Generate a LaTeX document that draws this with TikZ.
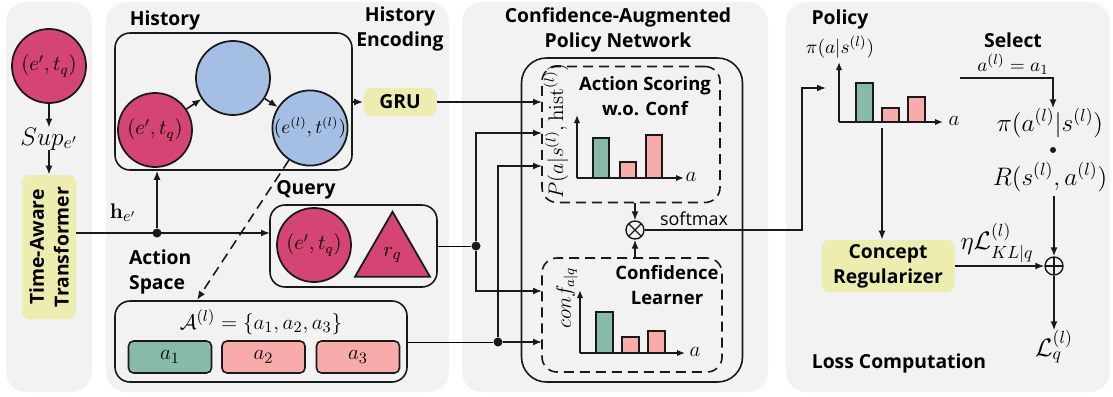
\documentclass[tikz,border=0pt]{standalone}
\usepackage[no-math]{fontspec}
\setmainfont{Open Sans}
\setsansfont{Open Sans}
\usepackage{amsmath}
\usetikzlibrary{arrows.meta,positioning,calc,shapes.geometric}
\definecolor{pgbg}{RGB}{242,242,242}
\definecolor{pgedge}{RGB}{25,25,25}
\definecolor{pgent}{RGB}{212,69,115}
\definecolor{pghis}{RGB}{165,190,227}
\definecolor{pgyel}{RGB}{238,237,176}
\definecolor{pgtea}{RGB}{135,186,170}
\definecolor{pgpnk}{RGB}{247,171,170}
\tikzset{
  panel/.style={fill=pgbg, rounded corners=4mm},
  ent/.style={
    circle, draw=pgedge, line width=1pt, fill=pgent,
    minimum size=14.8mm, inner sep=0pt, font=\fontsize{12}{13}\selectfont
  },
  hst/.style={ent, fill=pghis},
  yel/.style={
    fill=pgyel, rounded corners=1.5mm, align=center, inner sep=2pt,
    font=\fontsize{11}{14.2}\selectfont\bfseries
  },
  grp/.style={draw=pgedge, line width=0.9pt, rounded corners=3mm},
  dgrp/.style={grp, dash pattern=on 2mm off 1.2mm},
  act/.style={
    draw=pgedge, line width=0.9pt, rounded corners=1mm,
    minimum width=16.6mm, minimum height=6.4mm, font=\fontsize{13}{14}\selectfont
  },
  arr/.style={-{Latex[length=1.8mm,width=1.4mm]}, draw=pgedge, line width=0.9pt},
  darr/.style={arr, dash pattern=on 2mm off 1.2mm},
  axis/.style={-{Latex[length=1.6mm,width=1.3mm]}, draw=pgedge, line width=0.9pt},
  bar/.style={draw=pgedge, line width=0.9pt},
  ttl/.style={font=\fontsize{11}{14.2}\selectfont\bfseries, align=center, inner sep=1pt},
  sub/.style={font=\fontsize{10.5}{14.2}\selectfont\bfseries, align=center, inner sep=1pt},
  mth/.style={font=\fontsize{11}{12}\selectfont, inner sep=1pt},
  big/.style={font=\fontsize{14}{15}\selectfont, inner sep=0pt},
  dot/.style={circle, fill=pgedge, inner sep=0pt, minimum size=1.8mm},
  opx/.style={circle, draw=pgedge, line width=0.8pt, minimum size=3.6mm, inner sep=0pt}
}
\begin{document}
\begin{tikzpicture}[x=0.2mm,y=-0.2mm]
  \useasboundingbox (0,0) rectangle (1113,396);
  % panels
  \fill[panel] (6,2) rectangle (92,392);
  \fill[panel] (106,2) rectangle (449,392);
  \fill[panel] (462,2) rectangle (768,392);
  \fill[panel] (786,2) rectangle (1110,392);

  % time-aware encoder
  \node[ent] (src) at (49,66) {$(e',t_q)$};
  \node[big] (sup) at (49,139) {$Sup_{e'}$};
  \node[yel, rotate=90, minimum width=28.8mm, minimum height=10.8mm] (tat) at (49,247)
    {Time-Aware\\Transformer};
  \draw[arr] (src) -- (sup);
  \draw[arr] (sup) -- (tat);

  % history
  \node[ttl] (histl) at (165,20) {History};
  \node[grp, minimum width=47.4mm, minimum height=27.4mm] (hbox) at (233.5,101.5) {};
  \node[ent] (hq) at (155,130) {$(e',t_q)$};
  \node[hst] (hm) at (233,78) {};
  \node[hst, font=\fontsize{10.5}{12}\selectfont] (hl) at (310,128) {$(e^{(l)},t^{(l)})$};
  \draw[darr] (hq) -- (hm);
  \draw[darr] (hm) -- (hl);
  \node[ttl] (hencl) at (400,29) {History\\Encoding};
  \node[yel, minimum width=14.6mm, minimum height=5.6mm] (gru) at (400,102) {GRU};
  \draw[arr] (hbox.east |- gru) -- (gru);

  % query
  \node[ttl] (ql) at (306,190) {Query};
  \node[grp, minimum width=33.4mm, minimum height=16.4mm] (qbox) at (353.5,246) {};
  \node[ent] (qe) at (314,245) {$(e',t_q)$};
  \node[regular polygon, regular polygon sides=3, draw=pgedge, line width=1pt, fill=pgent,
    minimum size=17.3mm, inner sep=0pt, font=\fontsize{13}{14}\selectfont] (rq) at (392.5,255) {$r_q$};

  % action space
  \node[ttl, align=left, anchor=west] (asl) at (127,272) {Action\\Space};
  \node[grp, minimum width=58.4mm, minimum height=16.2mm] (abox) at (261,341.5) {};
  \node[mth, font=\fontsize{13}{14}\selectfont] (aset) at (261,322) {$\mathcal{A}^{(l)}=\{a_1,a_2,a_3\}$};
  \node[act, fill=pgtea] (a1) at (170,357) {$a_1$};
  \node[act, fill=pgpnk] (a2) at (263.5,357) {$a_2$};
  \node[act, fill=pgpnk] (a3) at (358,357) {$a_3$};

  \coordinate (hj) at (157,233);
  \coordinate (qin) at (270,233);
  \coordinate (ain) at (197,300);
  \node[mth, font=\fontsize{13}{14}\selectfont] (hlab) at (123,213) {$\mathbf{h}_{e'}$};
  \draw[arr] (tat.south |- hj) -- (qin);
  \node[dot] (hjd) at (hj) {};
  \draw[arr] (hjd) -- (hjd |- hbox.south);
  \draw[darr] (hl) -- (ain);

  % policy network
  \node[ttl] (cpl) at (618,30) {Confidence-Augmented\\Policy Network};
  \node[grp, rounded corners=5mm, minimum width=44.2mm, minimum height=64.8mm] (pnet) at (632,220) {};
  \node[dgrp, minimum width=35.6mm, minimum height=27.2mm] (dsc) at (631,134.5) {};
  \node[dgrp, minimum width=36mm, minimum height=22.8mm] (dcf) at (632,315) {};
  \node[sub] (scl) at (645,96) {Action Scoring\\w.o. Conf};
  \node[mth, rotate=90, font=\fontsize{12}{13}\selectfont] (pl) at (556,131) {$P(a|s^{(l)},\mathrm{hist}^{(l)})$};
  \draw[axis] (577,178) -- (577,115);
  \draw[axis] (577,178) -- (684,178);
  \draw[bar, fill=pgtea] (593,178) rectangle (609,138);
  \draw[bar, fill=pgpnk] (620,178) rectangle (636,162);
  \draw[bar, fill=pgpnk] (646,178) rectangle (662,135);
  \node[mth, font=\fontsize{13}{14}\selectfont] (ax1) at (691,177) {$a$};

  \node[sub] (cll) at (667,285) {Confidence\\Learner};
  \node[mth, rotate=90, font=\fontsize{11.5}{12}\selectfont] (cfl) at (567,298) {$conf_{a|q}$};
  \draw[axis] (580,353) -- (580,290);
  \draw[axis] (580,353) -- (685,353);
  \draw[bar, fill=pgtea] (596,353) rectangle (613,312);
  \draw[bar, fill=pgpnk] (622,353) rectangle (639,337);
  \draw[bar, fill=pgpnk] (648,353) rectangle (665,331);
  \node[mth, font=\fontsize{13}{14}\selectfont] (ax2) at (695,352) {$a$};

  \node[opx, path picture={\draw[line width=0.7pt]
    (path picture bounding box.north west) -- (path picture bounding box.south east)
    (path picture bounding box.south west) -- (path picture bounding box.north east);}] (ot) at (635,230) {};
  \draw[arr] (dsc.south -| ot) -- (ot);
  \draw[arr] (dcf.north -| ot) -- (ot);
  \node[font=\fontsize{10.2}{12}\selectfont] (sm) at (694,219) {softmax};

  % inputs to the policy network
  \coordinate (p1) at (542,102);
  \coordinate (p2) at (542,133);
  \coordinate (p3) at (542,166);
  \coordinate (p4) at (542,291);
  \coordinate (p5) at (542,342);
  \node[dot] (qj) at (476,246) {};
  \node[dot] (aj) at (498,342) {};
  \draw[arr] (gru) -- (p1);
  \draw (qbox.east |- qj) -- (qj);
  \draw[arr] (qj) |- (p2);
  \draw[arr] (qj) |- (p4);
  \draw (abox.east |- aj) -- (aj);
  \draw[arr] (aj) |- (p3);
  \draw[arr] (aj) -- (p5);

  % policy and loss
  \node[ttl] (pol) at (840,19) {Policy};
  \node[mth] (pil) at (840,47) {$\pi(a|s^{(l)})$};
  \draw[axis] (839,122) -- (839,62);
  \draw[axis] (839,122) -- (943,122);
  \draw[bar, fill=pgtea] (856,122) rectangle (873,83);
  \draw[bar, fill=pgpnk] (882,122) rectangle (899,108);
  \draw[bar, fill=pgpnk] (908,122) rectangle (925,97);
  \node[mth, font=\fontsize{13}{14}\selectfont] (ax3) at (954,121) {$a$};

  \coordinate (bend) at (802,230);
  \coordinate (pin) at (826,88);
  \draw[arr] (ot) -- (bend) |- (pin);

  \node[yel, minimum width=26.6mm, minimum height=10.4mm] (creg) at (888,266) {Concept\\Regularizer};
  \coordinate (pdn) at (882,128);
  \draw[arr] (pdn) -- (pdn |- creg.north);

  \node[ttl] (sell) at (1013,40) {Select};
  \node[mth] (sela) at (1013,64) {$a^{(l)}=a_1$};
  \coordinate (sel) at (960,78);
  \node[big] (pia) at (1050,123) {$\pi(a^{(l)}|s^{(l)})$};
  \draw[arr] (sel) -| (pia.north -| 1053,0);
  \node[dot, minimum size=1.2mm] (cdot) at (1053,150) {};
  \node[big] (rr) at (1050,177) {$R(s^{(l)},a^{(l)})$};
  \node[opx, path picture={\draw[line width=0.7pt]
    (path picture bounding box.north) -- (path picture bounding box.south)
    (path picture bounding box.west) -- (path picture bounding box.east);}] (op) at (1054,266) {};
  \draw[arr] (rr.south -| op) ++(0,4) -- (op);
  \draw[arr] (creg) -- (op);
  \node[big] (kl) at (997,243) {$\eta\mathcal{L}_{KL|q}^{(l)}$};
  \node[big] (lq) at (1054,347) {$\mathcal{L}_q^{(l)}$};
  \draw[arr] (op) -- (lq);
  \node[ttl] (lossl) at (899,363) {Loss Computation};
\end{tikzpicture}
\end{document}
